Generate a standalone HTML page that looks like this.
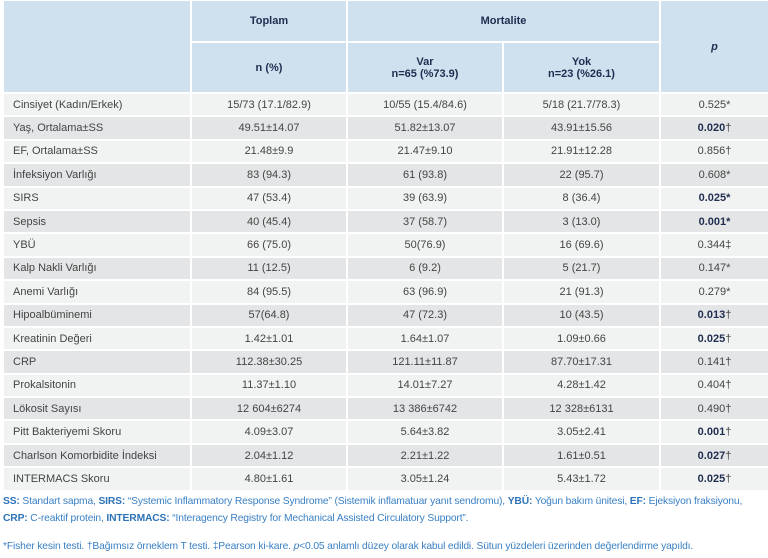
<!DOCTYPE html>
<html><head><meta charset="utf-8"><style>
body{margin:0;width:768px;height:558px;background:#fff;font-family:"Liberation Sans",sans-serif;overflow:hidden}
table{position:absolute;left:2px;top:-1px;width:768px;border-collapse:collapse;table-layout:fixed}
td,th{border:2px solid #fff;text-align:center;font-size:11px;color:#444;padding:0;height:21.4px}
th{background:#cfe0ee;color:#1f2d50;font-weight:bold}
td.l{text-align:left;padding-left:9px}
tr.a td{background:#f1f2f2}
tr.b td{background:#e4e5e6}
b{color:#1f2d50}
.f{position:absolute;left:3px;font-size:10.3px;color:#3a80c4;letter-spacing:-0.15px;white-space:nowrap}
.f b{color:#2e74b8}
</style></head><body>
<table>
<colgroup><col style="width:188px"><col style="width:156px"><col style="width:156px"><col style="width:157px"><col></colgroup>
<tr><th rowspan="2" style="height:91px"></th><th style="height:40px">Toplam</th><th colspan="2">Mortalite</th><th rowspan="2"><i>p</i></th></tr>
<tr><th style="height:49px">n (%)</th><th>Var<br>n=65 (%73.9)</th><th>Yok<br>n=23 (%26.1)</th></tr>
<tr class="a"><td class="l">Cinsiyet (Kadın/Erkek)</td><td>15/73 (17.1/82.9)</td><td>10/55 (15.4/84.6)</td><td>5/18 (21.7/78.3)</td><td>0.525*</td></tr>
<tr class="b"><td class="l">Yaş, Ortalama±SS</td><td>49.51±14.07</td><td>51.82±13.07</td><td>43.91±15.56</td><td><b>0.020</b>†</td></tr>
<tr class="a"><td class="l">EF, Ortalama±SS</td><td>21.48±9.9</td><td>21.47±9.10</td><td>21.91±12.28</td><td>0.856†</td></tr>
<tr class="b"><td class="l">İnfeksiyon Varlığı</td><td>83 (94.3)</td><td>61 (93.8)</td><td>22 (95.7)</td><td>0.608*</td></tr>
<tr class="a"><td class="l">SIRS</td><td>47 (53.4)</td><td>39 (63.9)</td><td>8 (36.4)</td><td><b>0.025*</b></td></tr>
<tr class="b"><td class="l">Sepsis</td><td>40 (45.4)</td><td>37 (58.7)</td><td>3 (13.0)</td><td><b>0.001*</b></td></tr>
<tr class="a"><td class="l">YBÜ</td><td>66 (75.0)</td><td>50(76.9)</td><td>16 (69.6)</td><td>0.344‡</td></tr>
<tr class="b"><td class="l">Kalp Nakli Varlığı</td><td>11 (12.5)</td><td>6 (9.2)</td><td>5 (21.7)</td><td>0.147*</td></tr>
<tr class="a"><td class="l">Anemi Varlığı</td><td>84 (95.5)</td><td>63 (96.9)</td><td>21 (91.3)</td><td>0.279*</td></tr>
<tr class="b"><td class="l">Hipoalbüminemi</td><td>57(64.8)</td><td>47 (72.3)</td><td>10 (43.5)</td><td><b>0.013</b>†</td></tr>
<tr class="a"><td class="l">Kreatinin Değeri</td><td>1.42±1.01</td><td>1.64±1.07</td><td>1.09±0.66</td><td><b>0.025</b>†</td></tr>
<tr class="b"><td class="l">CRP</td><td>112.38±30.25</td><td>121.11±11.87</td><td>87.70±17.31</td><td>0.141†</td></tr>
<tr class="a"><td class="l">Prokalsitonin</td><td>11.37±1.10</td><td>14.01±7.27</td><td>4.28±1.42</td><td>0.404†</td></tr>
<tr class="b"><td class="l">Lökosit Sayısı</td><td>12 604±6274</td><td>13 386±6742</td><td>12 328±6131</td><td>0.490†</td></tr>
<tr class="a"><td class="l">Pitt Bakteriyemi Skoru</td><td>4.09±3.07</td><td>5.64±3.82</td><td>3.05±2.41</td><td><b>0.001</b>†</td></tr>
<tr class="b"><td class="l">Charlson Komorbidite İndeksi</td><td>2.04±1.12</td><td>2.21±1.22</td><td>1.61±0.51</td><td><b>0.027</b>†</td></tr>
<tr class="a"><td class="l">INTERMACS Skoru</td><td>4.80±1.61</td><td>3.05±1.24</td><td>5.43±1.72</td><td><b>0.025</b>†</td></tr>
</table>
<div class="f" style="top:496px"><b>SS:</b> Standart sapma, <b>SIRS:</b> “Systemic Inflammatory Response Syndrome” (Sistemik inflamatuar yanıt sendromu), <b>YBÜ:</b> Yoğun bakım ünitesi, <b>EF:</b> Ejeksiyon fraksiyonu,</div>
<div class="f" style="top:513px"><b>CRP:</b> C-reaktif protein, <b>INTERMACS:</b> “Interagency Registry for Mechanical Assisted Circulatory Support”.</div>
<div class="f" style="top:541px">*Fisher kesin testi. †Bağımsız örneklem T testi. ‡Pearson ki-kare. <i>p</i>&lt;0.05 anlamlı düzey olarak kabul edildi. Sütun yüzdeleri üzerinden değerlendirme yapıldı.</div>
</body></html>
